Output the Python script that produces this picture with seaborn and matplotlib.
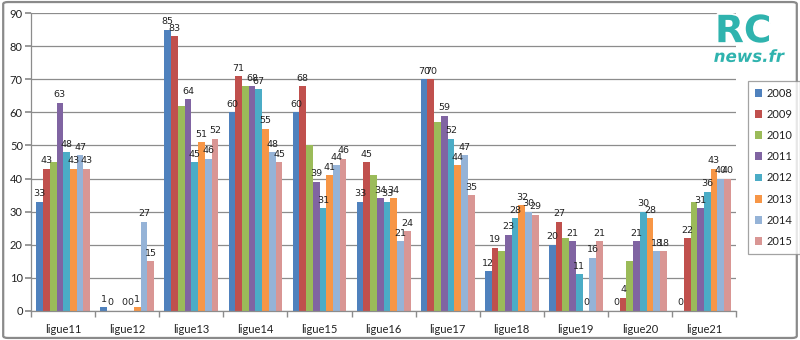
import numpy as np
import pandas as pd
import matplotlib
matplotlib.use("Agg")
import matplotlib.pyplot as plt
import matplotlib.patheffects as pe
from matplotlib.patches import FancyBboxPatch
import seaborn as sns

categories = ["ligue11", "ligue12", "ligue13", "ligue14", "ligue15", "ligue16",
              "ligue17", "ligue18", "ligue19", "ligue20", "ligue21"]
years = ["2008", "2009", "2010", "2011", "2012", "2013", "2014", "2015"]

v2008 = [33, 1, 85, 60, 60, 33, 70, 12, 20, 0, 0]
v2009 = [43, 0, 83, 71, 68, 45, 70, 19, 27, 4, 22]
v2010 = [45, 0, 62, 68, 50, 41, 57, 18, 22, 15, 33]
v2011 = [63, 0, 64, 68, 39, 34, 59, 23, 21, 21, 31]
v2012 = [48, 0, 45, 67, 31, 33, 52, 28, 11, 30, 36]
v2013 = [43, 1, 51, 55, 41, 34, 44, 32, 0, 28, 43]
v2014 = [47, 27, 46, 48, 44, 21, 47, 30, 16, 18, 40]
v2015 = [43, 15, 52, 45, 46, 24, 35, 29, 21, 18, 40]
series = [v2008, v2009, v2010, v2011, v2012, v2013, v2014, v2015]
labelled_years = ["2008", "2009", "2011", "2012", "2013", "2014", "2015"]

colors = ["#4F81BD", "#C0504D", "#9BBB59", "#8064A2",
          "#4BACC6", "#F79646", "#95B3D7", "#D99694"]

df = pd.DataFrame({
    "ligue": np.tile(categories, len(years)),
    "year": np.repeat(years, len(categories)),
    "value": np.concatenate(series),
})

sns.set_theme(style="white")
plt.rcParams["font.family"] = ["DejaVu Sans"]

fig = plt.figure(figsize=(8, 3.4), dpi=100)
ax = fig.add_axes([0.039, 0.086, 0.881, 0.875])

sns.barplot(data=df, x="ligue", y="value", hue="year", order=categories,
            hue_order=years, palette=colors, width=0.84, saturation=1,
            errorbar=None, ax=ax, legend=True, linewidth=0)

for yr, cont in zip(years, ax.containers):
    if yr in labelled_years:
        labs = [f"{v:.0f}" if np.isfinite(v) else "" for v in cont.datavalues]
        ax.bar_label(cont, labels=labs, padding=2.5, fontsize=6.8, color="#222222")

ax.set_ylim(0, 90)
ax.set_xlim(-0.5, len(categories) - 0.5)
ax.set_yticks(np.arange(0, 91, 10))
ax.yaxis.grid(True, color="#8c8c8c", linewidth=0.9)
ax.set_axisbelow(True)
ax.set_xlabel("")
ax.set_ylabel("")
for s in ["top", "right"]:
    ax.spines[s].set_visible(False)
for s in ["left", "bottom"]:
    ax.spines[s].set_color("#8c8c8c")
    ax.spines[s].set_linewidth(0.9)

ax.tick_params(axis="y", which="major", left=True, length=4, color="#8c8c8c",
               labelsize=8, labelcolor="#222222", pad=2)
ax.tick_params(axis="x", which="major", bottom=False, labelsize=8,
               labelcolor="#222222", pad=3.5)
ax.set_xticks(np.arange(len(categories) + 1) - 0.5, minor=True)
ax.tick_params(axis="x", which="minor", bottom=True, length=4, color="#8c8c8c")
for t in ax.get_xticklabels() + ax.get_yticklabels():
    t.set_fontfamily(["Lato", "DejaVu Sans"])

handles, labels = ax.get_legend_handles_labels()
ax.legend_.remove()
leg = fig.legend(handles, labels, loc="center left", bbox_to_anchor=(0.935, 0.508),
                 frameon=True, fancybox=False, fontsize=8, handlelength=0.7,
                 handleheight=0.7, handletextpad=0.4, labelspacing=0.92,
                 borderpad=0.6, borderaxespad=0)
leg.get_frame().set_edgecolor("#8c8c8c")
leg.get_frame().set_linewidth(0.9)
for t in leg.get_texts():
    t.set_fontfamily(["Lato", "DejaVu Sans"])
    t.set_color("#222222")

# logo
fig.text(0.929, 0.876, "RC", fontsize=27, fontweight="heavy", color="#2FB3AE",
         ha="center", va="baseline", fontfamily="DejaVu Sans",
         path_effects=[pe.withSimplePatchShadow(offset=(1, -1), shadow_rgbFace="#cfd8d8", alpha=0.8),
                       pe.withStroke(linewidth=3, foreground="white")])
fig.text(0.936, 0.818, "news.fr", fontsize=12, fontweight="bold", style="italic",
         color="#2FB3AE", ha="center", va="baseline", fontfamily="DejaVu Sans",
         path_effects=[pe.withStroke(linewidth=2.5, foreground="white")])

# outer border
border = FancyBboxPatch((0.004, 0.006), 0.992, 0.988, boxstyle="round,pad=0,rounding_size=0.006",
                        transform=fig.transFigure, fill=False, edgecolor="#8a8a8a",
                        linewidth=1.6)
fig.patches.append(border)

fig.savefig("out.png", dpi=100)
